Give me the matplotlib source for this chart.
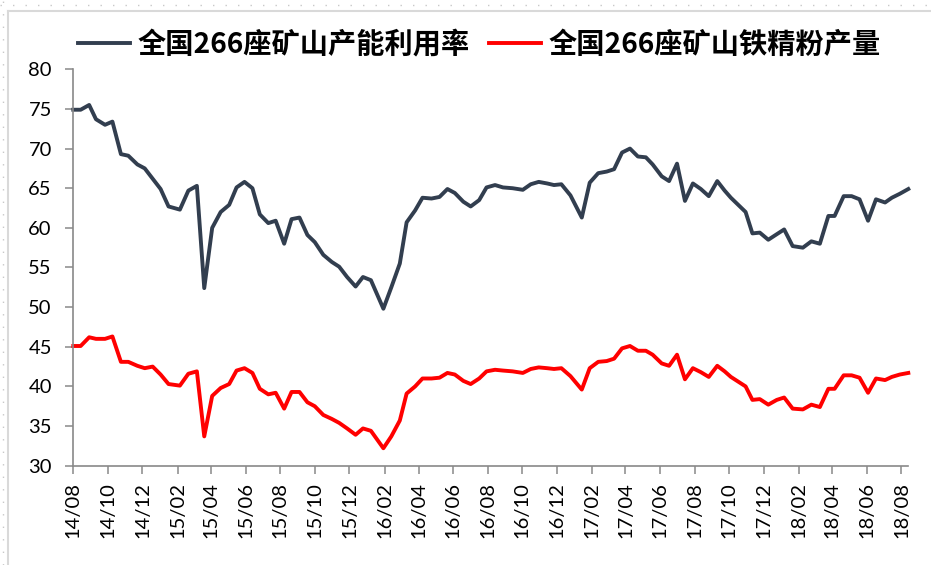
import matplotlib
matplotlib.use("Agg")
import matplotlib.pyplot as plt
import matplotlib.dates as mdates
from matplotlib.lines import Line2D
import pandas as pd

# ---- data ----
base_date = "2014-08-01"
day_offsets = [0, 13, 28, 40, 56, 69, 84, 97, 113, 126, 140, 154, 168, 188, 203, 218,
               231, 245, 260, 275, 288, 302, 316, 329, 344, 357, 372, 385, 399, 413,
               426, 441, 456, 469, 483, 498, 511, 525, 547, 561, 576, 588, 603, 616,
               632, 646, 660, 673, 688, 701, 716, 729, 744, 758, 775, 793, 807, 821,
               836, 848, 861, 877, 897, 911, 926, 941, 954, 968, 982, 996, 1010, 1022,
               1038, 1051, 1065, 1079, 1093, 1107, 1121, 1136, 1149, 1160, 1173, 1186,
               1198, 1211, 1226, 1241, 1254, 1269, 1287, 1302, 1317, 1332, 1343, 1359,
               1373, 1387, 1402, 1416, 1432, 1444, 1458, 1473]

utilization = [74.9, 74.9, 75.5, 73.7, 73.0, 73.4, 69.3, 69.1, 68.0, 67.5, 66.2, 64.9,
               62.7, 62.3, 64.7, 65.3, 52.4, 60.0, 62.0, 62.9, 65.1, 65.8, 65.0, 61.7,
               60.6, 60.9, 58.0, 61.1, 61.3, 59.1, 58.2, 56.6, 55.7, 55.1, 53.8, 52.6,
               53.8, 53.4, 49.8, 52.5, 55.5, 60.7, 62.2, 63.8, 63.7, 63.9, 64.9, 64.4,
               63.3, 62.7, 63.5, 65.1, 65.4, 65.1, 65.0, 64.8, 65.5, 65.8, 65.6, 65.4,
               65.5, 64.1, 61.3, 65.7, 66.9, 67.1, 67.4, 69.5, 70.0, 69.0, 68.9, 68.0,
               66.5, 65.9, 68.1, 63.4, 65.6, 64.9, 64.0, 65.9, 64.7, 63.8, 62.9, 62.0,
               59.3, 59.4, 58.5, 59.2, 59.8, 57.7, 57.5, 58.3, 58.0, 61.5, 61.5, 64.0,
               64.0, 63.6, 60.9, 63.6, 63.2, 63.8, 64.3, 64.9]

output = [45.1, 45.1, 46.2, 46.0, 46.0, 46.3, 43.1, 43.1, 42.6, 42.3, 42.5, 41.5,
          40.3, 40.1, 41.6, 41.9, 33.7, 38.8, 39.8, 40.3, 42.0, 42.3, 41.7, 39.7,
          39.0, 39.2, 37.2, 39.3, 39.3, 38.0, 37.5, 36.4, 35.9, 35.4, 34.7, 33.9,
          34.7, 34.4, 32.2, 33.7, 35.7, 39.1, 40.0, 41.0, 41.0, 41.1, 41.7, 41.5,
          40.7, 40.3, 41.0, 41.9, 42.1, 42.0, 41.9, 41.7, 42.2, 42.4, 42.3, 42.2,
          42.3, 41.3, 39.6, 42.3, 43.1, 43.2, 43.5, 44.8, 45.1, 44.5, 44.5, 44.0,
          42.9, 42.6, 44.0, 40.9, 42.3, 41.8, 41.2, 42.6, 41.9, 41.2, 40.6, 40.0,
          38.3, 38.4, 37.7, 38.3, 38.6, 37.2, 37.1, 37.7, 37.4, 39.7, 39.7, 41.4,
          41.4, 41.1, 39.2, 41.0, 40.8, 41.2, 41.5, 41.7]

label_util = "全国266座矿山产能利用率"
label_out = "全国266座矿山铁精粉产量"
y_ticks = [30, 35, 40, 45, 50, 55, 60, 65, 70, 75, 80]

# ---- build ----
dates = pd.to_datetime(base_date) + pd.to_timedelta(day_offsets, unit="D")
tick_dates = pd.date_range(base_date, periods=25, freq="2MS")

W, H = 931, 565
fig = plt.figure(figsize=(W / 100, H / 100), dpi=100)
fig.patch.set_facecolor("white")

left, right, top, bottom = 73.3, 908.3, 69.3, 465.7
ax = fig.add_axes([left / W, 1 - bottom / H, (right - left) / W, (bottom - top) / H])

ax.plot(dates, utilization, color="#323E4F", lw=2.8, solid_joinstyle="round",
        label=label_util, clip_on=False)
ax.plot(dates, output, color="#FF0000", lw=2.8, solid_joinstyle="round",
        label=label_out, clip_on=False)

ax.set_ylim(30, 80)
ax.set_yticks(y_ticks)
ax.set_xlim(dates[0], dates[-1])
ax.set_xticks(tick_dates)
ax.xaxis.set_major_formatter(mdates.DateFormatter("%y/%m"))

axis_col = "#898989"
for s in ["top", "right"]:
    ax.spines[s].set_visible(False)
for s in ["left", "bottom"]:
    ax.spines[s].set_color(axis_col)
    ax.spines[s].set_linewidth(1.2)

tick_font = {"family": ["Lato", "DejaVu Sans"], "size": 14.5}
ax.tick_params(axis="y", direction="out", length=5.5, width=1.1, color=axis_col,
               pad=10, labelcolor="black")
ax.tick_params(axis="x", direction="out", length=5.8, width=1.1, color=axis_col,
               pad=6, labelcolor="black")
for lab in ax.get_yticklabels():
    lab.set_fontfamily(tick_font["family"])
    lab.set_fontsize(tick_font["size"])
for lab in ax.get_xticklabels():
    lab.set_fontfamily(tick_font["family"])
    lab.set_fontsize(tick_font["size"])
    lab.set_rotation(90)
    lab.set_va("top")
    lab.set_ha("center")

leg = fig.legend(loc="center left", bbox_to_anchor=(78 / W, 1 - 45 / H), ncol=2,
                 frameon=False, handlelength=1.85, handletextpad=0.25,
                 columnspacing=0.7, borderaxespad=0, borderpad=0,
                 prop={"family": ["Noto Sans CJK SC", "DejaVu Sans"],
                       "size": 20.3, "weight": "bold"})
for t in leg.get_texts():
    t.set_color("black")

# chart-area border and sheet gridline dots
fig.add_artist(Line2D([8 / W, 8 / W], [0, 1 - 11 / H], color="#D9D9D9", lw=1.5))
fig.add_artist(Line2D([8 / W, 1], [1 - 11 / H, 1 - 11 / H], color="#D9D9D9", lw=1.5))
fig.add_artist(Line2D([0, 1], [1 - 5 / H, 1 - 5 / H], color="#C8C8C8", lw=1,
                      linestyle=(0, (1, 8))))
fig.add_artist(Line2D([3 / W, 3 / W], [0, 1], color="#C8C8C8", lw=1,
                      linestyle=(0, (1, 8))))

fig.savefig("out.png", dpi=100, facecolor="white")
